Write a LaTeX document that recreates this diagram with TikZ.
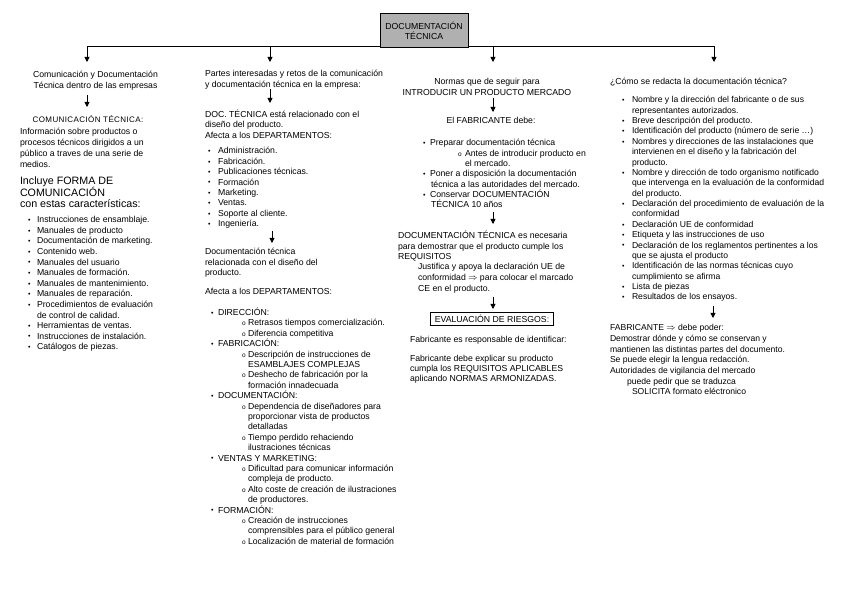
\documentclass[tikz,border=0pt]{standalone}
\usepackage{fontspec}
\setmainfont{Liberation Sans}
\usetikzlibrary{arrows.meta}
\newcommand\fsA{\fontsize{8.7}{10.4}\selectfont}
\newcommand\mybul[1]{\makebox[#1][l]{\raisebox{0.2pt}{\fontsize{7}{7}\selectfont\textbullet}}}
\newcommand\subb[2]{\hspace*{#1}\makebox[#2][l]{\fontsize{6.5}{6}\selectfont o}}
\begin{document}
\begin{tikzpicture}[x=1pt,y=-1pt,
  txt/.style={font=\fsA, inner sep=0pt, outer sep=0pt, anchor=north west, align=left, execute at begin node=\rule{0pt}{8pt}},
  ctr/.style={txt, anchor=north, align=center},
  arr/.style={line width=0.8pt, -{Triangle[length=5pt,width=5pt]}},
  mainbox/.style={draw=black, line width=1pt, fill=gray!62, minimum width=88pt, minimum height=34pt, inner sep=0pt, font=\fontsize{8.7}{10.5}\selectfont, align=center}]
\useasboundingbox (0,0) rectangle (848,601);
\fill[white] (0,0) rectangle (848,601);

% main connectors
\coordinate (hL) at (380,46.5);
\coordinate (hR) at (468,46.5);
\coordinate (t1) at (87,62);
\coordinate (t2) at (270,62);
\coordinate (t3) at (493,62);
\coordinate (t4) at (714,62);
\draw[arr] (hL) -| (t1);
\draw[arr] (hL) -| (t2);
\draw[arr] (hR) -| (t3);
\draw[arr] (hR) -| (t4);
\node[mainbox] (doc) at (424,31) {DOCUMENTACIÓN\\TÉCNICA};

% column 1
\node[ctr, font=\fontsize{8.7}{11.3}\selectfont] (a1) at (95.5,71) {Comunicación y Documentación\\Técnica dentro de las empresas};
\coordinate (a1s) at (87,95); \coordinate (a2n) at (87,107);
\draw[arr] (a1s) -- (a2n);
\node[ctr, font=\fontsize{8}{10}\selectfont] (a2) at (88,114.5) {{\addfontfeature{LetterSpace=5}COMUNICACIÓN TÉCNICA:}};
\node[txt, font=\fontsize{8.7}{11}\selectfont] (a3) at (20,128.5) {Información sobre productos o\\procesos técnicos dirigidos a un\\público a traves de una serie de\\medios.};
\node[txt, font=\fontsize{10.7}{10.5}\selectfont] (a4) at (20,176.5) {Incluye FORMA DE\\COMUNICACIÓN\\con estas características:};
\node[txt, font=\fontsize{8.7}{10.58}\selectfont] (a5) at (28,216.5) {\mybul{9pt}Instrucciones de ensamblaje.\\
\mybul{9pt}Manuales de producto\\
\mybul{9pt}Documentación de marketing.\\
\mybul{9pt}Contenido web.\\
\mybul{9pt}Manuales del usuario\\
\mybul{9pt}Manuales de formación.\\
\mybul{9pt}Manuales de mantenimiento.\\
\mybul{9pt}Manuales de reparación.\\
\mybul{9pt}Procedimientos de evaluación\\
\hspace*{9pt}de control de calidad.\\
\mybul{9pt}Herramientas de ventas.\\
\mybul{9pt}Instrucciones de instalación.\\
\mybul{9pt}Catálogos de piezas.};

% column 2
\node[txt, font=\fontsize{8.7}{11}\selectfont] (b1) at (205,70.5) {Partes interesadas y retos de la comunicación\\y documentación técnica en la empresa:};
\coordinate (b1s) at (270,89); \coordinate (b2n) at (270,103);
\draw[arr] (b1s) -- (b2n);
\node[txt, font=\fontsize{8.7}{10.5}\selectfont] (b2) at (205,109.5) {DOC. TÉCNICA está relacionado con el\\diseño del producto.\\Afecta a los DEPARTAMENTOS:};
\node[txt] (b3) at (208,147.5) {\mybul{10pt}Administración.\\
\mybul{10pt}Fabricación.\\
\mybul{10pt}Publicaciones técnicas.\\
\mybul{10pt}Formación\\
\mybul{10pt}Marketing.\\
\mybul{10pt}Ventas.\\
\mybul{10pt}Soporte al cliente.\\
\mybul{10pt}Ingeniería.};
\coordinate (b3s) at (272,231); \coordinate (b4n) at (272,243);
\draw[arr] (b3s) -- (b4n);
\node[txt, font=\fontsize{8.7}{10.5}\selectfont] (b4) at (205,248.5) {Documentación técnica\\relacionada con el diseño del\\producto.};
\node[txt] (b5) at (205,287) {Afecta a los DEPARTAMENTOS:};
\node[txt] (b6) at (211,308) {\mybul{7pt}DIRECCIÓN:\\
\subb{31pt}{6pt}Retrasos tiempos comercialización.\\
\subb{31pt}{6pt}Diferencia competitiva\\
\mybul{7pt}FABRICACIÓN:\\
\subb{31pt}{6pt}Descripción de instrucciones de\\
\hspace*{37pt}ESAMBLAJES COMPLEJAS\\
\subb{31pt}{6pt}Deshecho de fabricación por la\\
\hspace*{37pt}formación innadecuada\\
\mybul{7pt}DOCUMENTACIÓN:\\
\subb{31pt}{6pt}Dependencia de diseñadores para\\
\hspace*{37pt}proporcionar vista de productos\\
\hspace*{37pt}detalladas\\
\subb{31pt}{6pt}Tiempo perdido rehaciendo\\
\hspace*{37pt}ilustraciones técnicas\\
\mybul{7pt}VENTAS Y MARKETING:\\
\subb{31pt}{6pt}Dificultad para comunicar información\\
\hspace*{37pt}compleja de producto.\\
\subb{31pt}{6pt}Alto coste de creación de ilustraciones\\
\hspace*{37pt}de productores.\\
\mybul{7pt}FORMACIÓN:\\
\subb{31pt}{6pt}Creación de instrucciones\\
\hspace*{37pt}comprensibles para el público general\\
\subb{31pt}{6pt}Localización de material de formación};

% column 3
\node[ctr, font=\fontsize{8.7}{11}\selectfont] (c1) at (487,78.5) {Normas que de seguir para\\INTRODUCIR UN PRODUCTO MERCADO};
\coordinate (c1s) at (493,98); \coordinate (c2n) at (493,112);
\draw[arr] (c1s) -- (c2n);
\node[ctr] (c2) at (491,116) {El FABRICANTE debe:};
\node[txt, font=\fontsize{8.7}{10.3}\selectfont] (c3) at (423,139.5) {\mybul{7pt}Preparar documentación técnica\\
\subb{35pt}{7pt}Antes de introducir producto en\\
\hspace*{42pt}el mercado.\\
\mybul{7pt}Poner a disposición la documentación\\
\hspace*{8pt}técnica a las autoridades del mercado.\\
\mybul{7pt}Conservar DOCUMENTACIÓN\\
\hspace*{8pt}TÉCNICA 10 años};
\coordinate (c3s) at (493,212); \coordinate (c4n) at (493,224);
\draw[arr] (c3s) -- (c4n);
\node[txt, font=\fontsize{8.7}{10.5}\selectfont] (c4) at (398,231) {DOCUMENTACIÓN TÉCNICA es necesaria\\para demostrar que el producto cumple los\\REQUISITOS};
\node[txt, font=\fontsize{8.7}{11}\selectfont] (c5) at (418,263.5) {Justifica y apoya la declaración UE de\\conformidad $\Rightarrow$ para colocar el marcado\\CE en el producto.};
\coordinate (c5s) at (493,297); \coordinate (c6n) at (493,309);
\draw[arr] (c5s) -- (c6n);
\node[draw=black, line width=0.8pt, minimum width=123pt, minimum height=13pt, inner sep=1pt, font=\fsA] (c6) at (492,319) {EVALUACIÓN DE RIESGOS:};
\node[txt] (c7) at (410,334) {Fabricante es responsable de identificar:};
\node[txt, font=\fontsize{8.7}{10}\selectfont] (c8) at (410,355.5) {Fabricante debe explicar su producto\\cumpla los REQUISITOS APLICABLES\\aplicando NORMAS ARMONIZADAS.};

% column 4
\node[txt] (d1) at (610,77) {¿Cómo se redacta la documentación técnica?};
\node[txt, font=\fontsize{8.6}{10.37}\selectfont] (d2) at (622,96.5) {\mybul{10pt}Nombre y la dirección del fabricante o de sus\\
\hspace*{10pt}representantes autorizados.\\
\mybul{10pt}Breve descripción del producto.\\
\mybul{10pt}Identificación del producto (número de serie …)\\
\mybul{10pt}Nombres y direcciones de las instalaciones que\\
\hspace*{10pt}intervienen en el diseño y la fabricación del\\
\hspace*{10pt}producto.\\
\mybul{10pt}Nombre y dirección de todo organismo notificado\\
\hspace*{10pt}que intervenga en la evaluación de la conformidad\\
\hspace*{10pt}del producto.\\
\mybul{10pt}Declaración del procedimiento de evaluación de la\\
\hspace*{10pt}conformidad\\
\mybul{10pt}Declaración UE de conformidad\\
\mybul{10pt}Etiqueta y las instrucciones de uso\\
\mybul{10pt}Declaración de los reglamentos pertinentes a los\\
\hspace*{10pt}que se ajusta el producto\\
\mybul{10pt}Identificación de las normas técnicas cuyo\\
\hspace*{10pt}cumplimiento se afirma\\
\mybul{10pt}Lista de piezas\\
\mybul{10pt}Resultados de los ensayos.};
\coordinate (d2s) at (713,306); \coordinate (d3n) at (713,318);
\draw[arr] (d2s) -- (d3n);
\node[txt, font=\fontsize{8.6}{10.67}\selectfont] (d3) at (610,324.5) {FABRICANTE $\Rightarrow$ debe poder:\\
Demostrar dónde y cómo se conservan y\\
mantienen las distintas partes del documento.\\
Se puede elegir la lengua redacción.\\
Autoridades de vigilancia del mercado\\
\hspace*{17pt}puede pedir que se traduzca\\
\hspace*{22pt}SOLICITA formato eléctronico};
\end{tikzpicture}
\end{document}
